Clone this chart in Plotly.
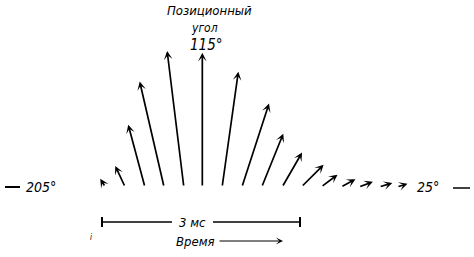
import math
import plotly.graph_objects as go

# ---- data ----
time_ms = [0.05, 0.35, 0.65, 0.94, 1.24, 1.52, 1.82, 2.12, 2.42, 2.73, 3.02, 3.32, 3.62, 3.89, 4.20, 4.47]
position_angle_deg = [147, 140, 130, 128, 122, 115, 107, 97, 93, 85, 70, 62, 53, 45, 42, 42]
amplitude = [0.07, 0.17, 0.47, 0.79, 1.00, 0.98, 0.85, 0.64, 0.42, 0.29, 0.23, 0.15, 0.12, 0.11, 0.10, 0.08]
up_angle = 115          # direction drawn straight up
left_label, right_label, up_label = "205°", "25°", "115°"
scale_ms = 3

# ---- layout geometry ----
W, H = 474, 257
PX_PER_MS = 66.0
X0_PX, Y0_PX = 102.0, 187.0
xr = [-X0_PX / PX_PER_MS, (W - X0_PX) / PX_PER_MS]
yr = [-(H - Y0_PX) / PX_PER_MS, Y0_PX / PX_PER_MS]
AMP = 137.0 / PX_PER_MS   # axis units per unit amplitude

def px(xp, yp):
    return (xp - X0_PX) / PX_PER_MS, (Y0_PX - yp) / PX_PER_MS

FONT = "Liberation Sans Narrow, DejaVu Sans Condensed, Arial Narrow, sans-serif"

fig = go.Figure()
fig.add_trace(go.Scatter(x=time_ms, y=[0] * len(time_ms), mode="markers",
                         marker=dict(size=1, color="rgba(0,0,0,0)"), hoverinfo="skip",
                         showlegend=False))

ann = []
for t, a, m in zip(time_ms, position_angle_deg, amplitude):
    th = math.radians(a - up_angle + 90)
    xe = t + m * AMP * math.cos(th)
    ye = m * AMP * math.sin(th)
    ann.append(dict(x=xe, y=ye, ax=t, ay=0, xref="x", yref="y", axref="x", ayref="y",
                    text="", showarrow=True, arrowhead=3, arrowsize=0.85, arrowwidth=1.7,
                    arrowcolor="black"))

def txt(s, xp, yp, size):
    x, y = px(xp, yp)
    ann.append(dict(x=x, y=y, xref="x", yref="y", text=s, showarrow=False,
                    xanchor="center", yanchor="middle",
                    font=dict(family=FONT, size=size, color="black", style="italic")))

txt("Позиционный", 209, 10, 13)
txt("угол", 204, 28, 12)
txt(up_label, 206, 45, 15)
txt(left_label, 41, 187, 14)
txt(right_label, 428, 187, 14)
txt(f"{scale_ms} мс", 192, 222, 13)
txt("Время", 195, 241, 13)
txt("i", 91, 237, 8)

# time arrow
xa, ya = px(218, 241)
xb, yb = px(283, 241)
ann.append(dict(x=xb, y=yb, ax=xa, ay=ya, xref="x", yref="y", axref="x", ayref="y",
                text="", showarrow=True, arrowhead=3, arrowsize=1.0, arrowwidth=1.2,
                arrowcolor="black"))

shapes = []
def line(x1p, y1p, x2p, y2p, w=1.5):
    a1, b1 = px(x1p, y1p)
    a2, b2 = px(x2p, y2p)
    shapes.append(dict(type="line", x0=a1, y0=b1, x1=a2, y1=b2, xref="x", yref="y",
                       line=dict(color="black", width=w)))

# reference direction dashes
line(5, 187, 20, 187, 2)
line(453, 188, 470, 188, 1.5)
# scale bar (0 .. scale_ms) with a gap for the label
sb_y = -(222 - Y0_PX) / PX_PER_MS
gap_l, gap_r = (172 - X0_PX) / PX_PER_MS, (213 - X0_PX) / PX_PER_MS
for (u0, u1) in [(0, gap_l), (gap_r, scale_ms)]:
    shapes.append(dict(type="line", x0=u0, y0=sb_y, x1=u1, y1=sb_y, xref="x", yref="y",
                       line=dict(color="black", width=1.3)))
for u in (0, scale_ms):
    shapes.append(dict(type="line", x0=u, y0=sb_y - 5 / PX_PER_MS, x1=u, y1=sb_y + 5 / PX_PER_MS,
                       xref="x", yref="y", line=dict(color="black", width=2)))

fig.update_layout(
    width=W, height=H, margin=dict(l=0, r=0, t=0, b=0),
    paper_bgcolor="white", plot_bgcolor="white",
    xaxis=dict(range=xr, visible=False, fixedrange=True),
    yaxis=dict(range=yr, visible=False, fixedrange=True),
    annotations=ann, shapes=shapes, showlegend=False,
)
fig.write_html("out.html")
